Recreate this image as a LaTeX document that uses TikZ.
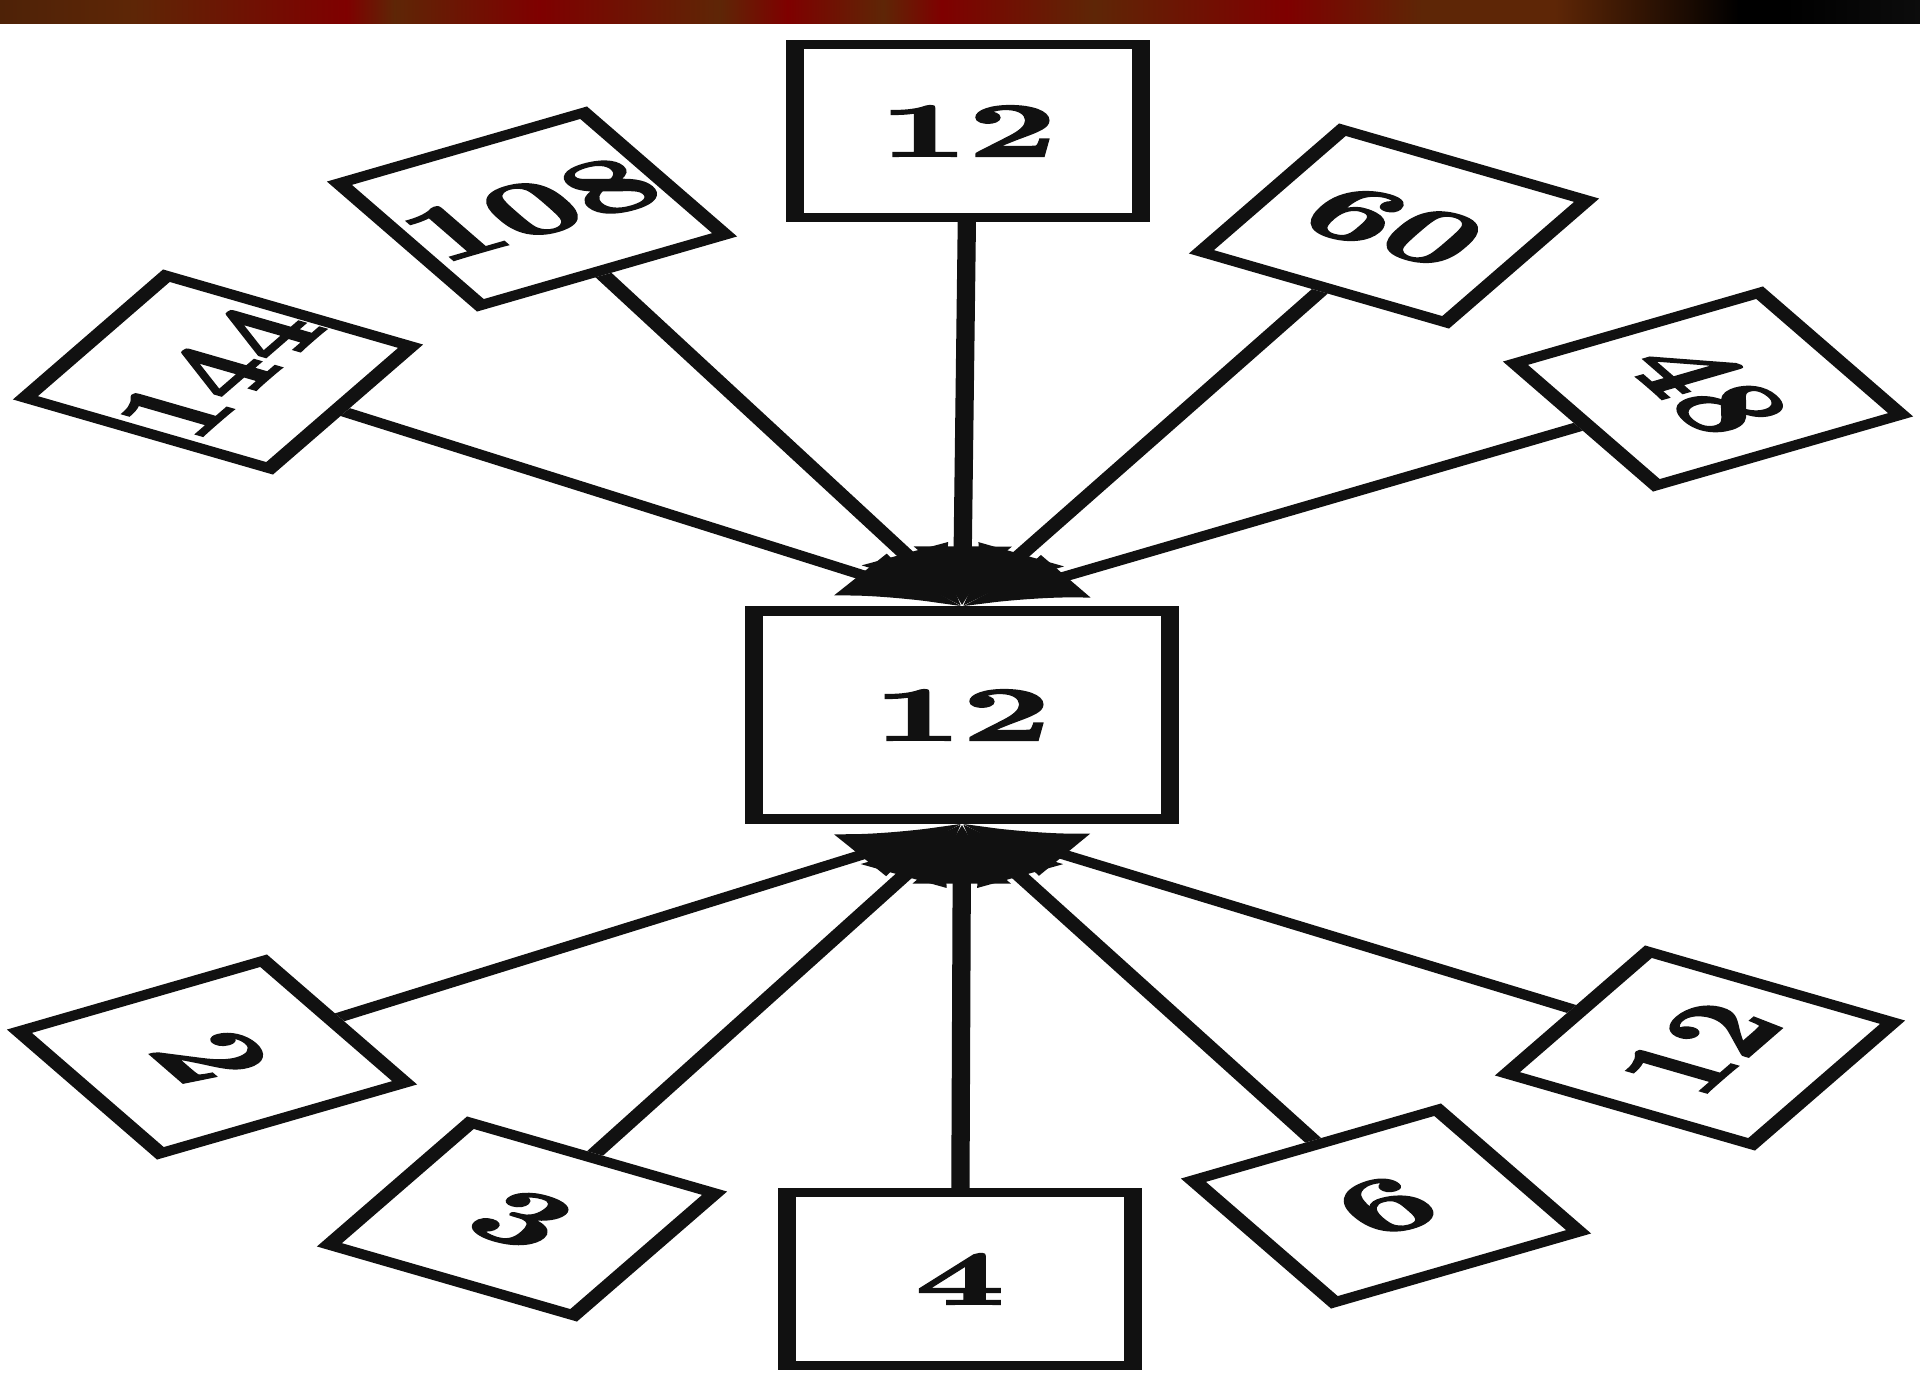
\documentclass[tikz,border=0pt]{standalone}
\usepackage{fontspec}
\usetikzlibrary{arrows.meta}
\newfontfamily\numfont{lmroman10-bold}[Extension=.otf, FakeBold=2]
\definecolor{divInk}{HTML}{111111}
\definecolor{barDark}{HTML}{4E2207}
\definecolor{barBrown}{HTML}{5E2606}
\definecolor{barRed}{HTML}{7F0000}
\definecolor{barBlack}{HTML}{000000}
\definecolor{barGray}{HTML}{0C0C0C}
\tikzset{
  every picture/.style={font=\numfont\fontsize{22}{26}\selectfont, text=divInk},
  num box/.style={draw=divInk, line width=2.6pt, fill=white, inner sep=0pt,
    minimum size=14.1mm},
  num big/.style={num box, minimum size=17.3mm},
  num link/.style={-{Latex[length=6mm,width=5mm]},
    draw=divInk, line width=2.6pt}
}

\begin{document}
\begin{tikzpicture}[x=0.1mm,y=-0.1mm]
  \useasboundingbox (0,0) rectangle (1920,1375);
  % title bar
  \foreach \xa/\xb/\ca/\cb in {0/135/barDark/barBrown, 134/347/barBrown/barRed,
      346/395/barRed/barBrown, 394/539/barBrown/barRed, 538/721/barRed/barBrown,
      720/788/barBrown/barRed, 787/884/barRed/barBrown, 883/942/barBrown/barRed,
      941/1095/barRed/barBrown, 1094/1287/barBrown/barRed, 1286/1422/barRed/barBrown,
      1421/1556/barBrown/barBrown, 1555/1739/barBrown/barBlack,
      1738/1786/barBlack/barBlack, 1785/1920/barBlack/barGray}
    \shade[left color=\ca, right color=\cb] (\xa,0) rectangle (\xb,23);
  \begin{scope}[transform canvas={xscale=2}]
    \node[num box, minimum size=20.8mm] (mid12) at (481,715) {12};
    % upper ring
    \node[num box, rotate=60] (n144) at (109,372) {144};
    \node[num box, rotate=30] (n108) at (266,209) {108};
    \node[num big] (top12) at (484,131) {12};
    \node[num box, rotate=-30] (n60) at (697,226) {60};
    \node[num box, rotate=-60] (n48) at (854,389) {48};
    % lower ring
    \node[num box, rotate=-60] (n2) at (106,1057) {2};
    \node[num box, rotate=-30] (n3) at (261,1219) {3};
    \node[num big] (n4) at (480,1279) {4};
    \node[num box, rotate=30] (n6) at (693,1206) {6};
    \node[num box, rotate=60] (n12b) at (850,1048) {12};
    \foreach \n in {n144,n108,top12,n60,n48}
      \draw[num link] (\n) -- (mid12.north);
    \foreach \n in {n2,n3,n4,n6,n12b}
      \draw[num link] (\n) -- (mid12.south);
  \end{scope}
\end{tikzpicture}
\end{document}
